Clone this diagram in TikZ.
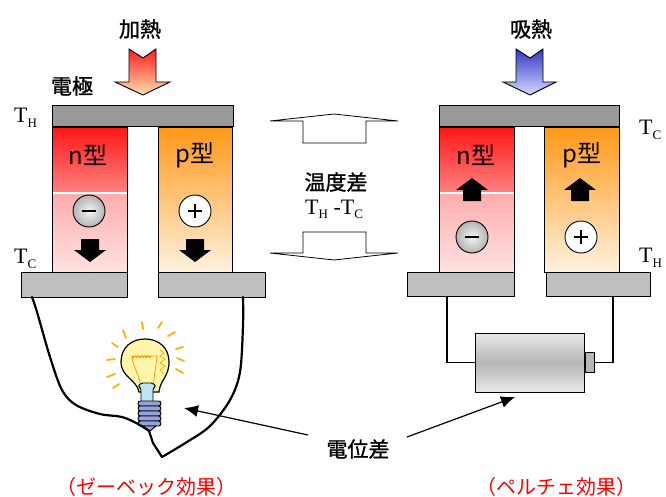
\documentclass[tikz,border=0pt]{standalone}
\usepackage{fontspec}
\setmainfont{Liberation Serif}
\newfontfamily\jp{Noto Sans CJK JP}
\newfontfamily\jpb[FakeBold=1.2]{Noto Sans CJK JP}
\usetikzlibrary{arrows.meta}
\definecolor{nTop}{RGB}{255,22,22}
\definecolor{nMid}{RGB}{255,130,130}
\definecolor{nMidB}{RGB}{255,172,172}
\definecolor{nBot}{RGB}{255,226,226}
\definecolor{pTop}{RGB}{255,152,22}
\definecolor{pBot}{RGB}{255,242,224}
\definecolor{hotTop}{RGB}{255,30,30}
\definecolor{hotBot}{RGB}{255,222,175}
\definecolor{coldTop}{RGB}{55,55,195}
\definecolor{coldBot}{RGB}{212,216,255}
\definecolor{elecDark}{RGB}{153,153,153}
\definecolor{elecLight}{RGB}{191,191,191}
\definecolor{capRed}{RGB}{255,0,0}
\definecolor{rayOrange}{RGB}{255,176,0}
\definecolor{filament}{RGB}{255,150,20}
\definecolor{glass}{RGB}{255,246,170}
\definecolor{stem}{RGB}{190,230,245}
\definecolor{screw}{RGB}{150,162,220}
\definecolor{battLight}{RGB}{232,232,232}
\definecolor{battMid}{RGB}{182,182,182}
\newcommand{\TT}[1]{T\raisebox{-5pt}{\fontsize{13}{13}\selectfont #1}}
\tikzset{
  leg/.style={draw=black,line width=0.8pt},
  topelec/.style={draw=black,line width=1pt,fill=elecDark},
  botelec/.style={draw=black,line width=1pt,fill=elecLight},
  jplabel/.style={font=\jpb\fontsize{21}{21}\selectfont,inner sep=0pt},
  typelabel/.style={font=\jp\fontsize{24}{24}\selectfont,inner sep=0pt},
  tlabel/.style={font=\fontsize{22}{22}\selectfont,inner sep=0pt,anchor=base west},
  caption/.style={font=\jp\fontsize{20}{20}\selectfont,text=capRed,inner sep=0pt},
  blockarrow/.style={fill=black},
  hollow/.style={draw=black,line width=0.8pt,fill=white},
  thickwire/.style={draw=black,line width=2.2pt,line join=round,line cap=round},
  thinwire/.style={draw=black,line width=1.3pt},
  pointer/.style={draw=black,line width=1.2pt,-{Latex[length=14pt,width=12pt]}},
  ray/.style={draw=rayOrange,line width=1.8pt,line cap=round},
}
\begin{document}
\begin{tikzpicture}[x=1pt,y=-1pt]
\useasboundingbox (0,0) rectangle (666,497);

% ---------------- left module (Seebeck) ----------------
% n leg
\shade[top color=nTop,bottom color=nMid] (52,127) rectangle (127,193);
\shade[top color=nMidB,bottom color=nBot] (52,193) rectangle (127,272);
\draw[white,line width=1pt] (52,193) -- (127,193);
\draw[leg] (52,127) rectangle (127,272);
% p leg
\shade[top color=pTop,bottom color=pBot,leg] (158,127) rectangle (232,272);
\draw[leg] (158,127) rectangle (232,272);
% electrodes
\draw[topelec] (52,106) rectangle (233,127);
\draw[botelec] (21,272) rectangle (127,297);
\draw[botelec] (158,272) rectangle (265,297);

\node[typelabel] (nL) at (88,155) {n型};
\node[typelabel] (pL) at (195,155) {p型};

% charge carriers
\shade[inner color=gray!8,outer color=gray!60] (89,211) circle (16);
\draw[line width=0.9pt] (89,211) circle (16);
\draw[line width=1.3pt] (82,211) -- (96,211);
\node[circle,draw=black,line width=0.9pt,fill=white,minimum size=32pt,inner sep=0pt] (plusL) at (195,211) {};
\draw[line width=1.3pt] (188,211) -- (202,211) (195,204) -- (195,218);

% carrier flow (downwards)
\fill[blockarrow] (81,239) -- (99,239) -- (99,250) -- (106,250) -- (90,262) -- (74,250) -- (81,250) -- cycle;
\fill[blockarrow] (186,239) -- (204,239) -- (204,250) -- (211,250) -- (195,262) -- (179,250) -- (186,250) -- cycle;

% heat input
\shade[top color=hotTop,bottom color=hotBot,draw=black,line width=0.9pt]
  (129,49) -- (143,58) -- (156,49) -- (156,82) -- (170,82) -- (143,95) -- (115,82) -- (129,82) -- cycle;
\node[jplabel] (heat) at (140,29) {加熱};
\node[jplabel] (elec) at (72,86) {電極};

\node[tlabel] (thL) at (14,123) {\TT{H}};
\node[tlabel] (tcL) at (14,263) {\TT{C}};

% ---------------- right module (Peltier) ----------------
\shade[top color=nTop,bottom color=nMid] (439,127) rectangle (514,193);
\shade[top color=nMidB,bottom color=nBot] (439,193) rectangle (514,272);
\draw[white,line width=1pt] (439,193) -- (514,193);
\draw[leg] (439,127) rectangle (514,272);
\shade[top color=pTop,bottom color=pBot] (544,127) rectangle (619,272);
\draw[leg] (544,127) rectangle (619,272);
\draw[topelec] (439,106) rectangle (619,127);
\draw[botelec] (407,272) rectangle (514,296);
\draw[botelec] (546,272) rectangle (650,296);

\node[typelabel] (nR) at (476,155) {n型};
\node[typelabel] (pR) at (582,155) {p型};

% carrier flow (upwards)
\fill[blockarrow] (456,190) -- (472,178) -- (488,190) -- (481,190) -- (481,201) -- (463,201) -- (463,190) -- cycle;
\fill[blockarrow] (564,190) -- (580,178) -- (596,190) -- (589,190) -- (589,201) -- (571,201) -- (571,190) -- cycle;

\shade[inner color=gray!8,outer color=gray!60] (472,237) circle (16);
\draw[line width=0.9pt] (472,237) circle (16);
\draw[line width=1.3pt] (465,237) -- (479,237);
\node[circle,draw=black,line width=0.9pt,fill=white,minimum size=32pt,inner sep=0pt] (plusR) at (581,237) {};
\draw[line width=1.3pt] (574,237) -- (588,237) (581,230) -- (581,244);

% heat absorbed
\shade[top color=coldTop,bottom color=coldBot,draw=black,line width=0.9pt]
  (516,49) -- (530,58) -- (543,49) -- (543,82) -- (556,82) -- (530,95) -- (503,82) -- (516,82) -- cycle;
\node[jplabel] (absorb) at (531,29) {吸熱};

\node[tlabel] (tcR) at (639,135) {\TT{C}};
\node[tlabel] (thR) at (639,262) {\TT{H}};

% ---------------- temperature difference ----------------
\draw[hollow] (270,121) -- (303,121) -- (303,143) -- (366,143) -- (366,121) -- (398,121) -- (334,114) -- cycle;
\draw[hollow] (303,232) -- (366,232) -- (366,253) -- (398,253) -- (334,260) -- (270,253) -- (303,253) -- cycle;
\node[jplabel] (dtemp) at (336,182) {温度差};
\node[tlabel] (dT) at (305,214) {\TT{H} -\TT{C}};

% ---------------- light bulb ----------------
\foreach \a/\b/\c/\d in {142/322/143/329, 162/322/158/328, 175/332/168/336, 183/347/176/349,
  184/361/177/358, 183/373/176/369, 123/330/126/338, 112/343/118/347, 107/360/115/359,
  107/377/115/374, 113/388/119/384}
  \draw[ray] (\a,\b) -- (\c,\d);
\draw[line width=1.2pt,fill=glass]
  (139,392) .. controls (137,380) and (121,377) .. (121,362)
  .. controls (121,347) and (132,339) .. (145,339)
  .. controls (158,339) and (169,347) .. (169,362)
  .. controls (169,377) and (160,380) .. (159,392) -- cycle;
% filament
\draw[filament,line width=0.8pt]
  (141,388) .. controls (140,375) and (133,368) .. (132,356)
  (153,388) .. controls (154,375) and (156,368) .. (157,356)
  (132,356) arc[start angle=180,end angle=0,radius=1.6]
  arc[start angle=180,end angle=0,radius=1.6]
  arc[start angle=180,end angle=0,radius=1.6]
  arc[start angle=180,end angle=0,radius=1.6]
  arc[start angle=180,end angle=0,radius=1.6]
  arc[start angle=180,end angle=0,radius=1.6]
  (131,356) -- (158,356);
\draw[rayOrange,line width=0.8pt] (160,350) -- (164,353) -- (160,356) -- (165,359) -- (160,363) -- (165,366) -- (160,370) -- (164,374);
% stem
\draw[line width=0.9pt,fill=stem,rounded corners=2pt] (141,402) -- (141,388) -- (138,386) -- (141,383) -- (153,383) -- (156,386) -- (153,388) -- (153,402);
% screw base
\foreach \k in {0,...,4}
  \draw[line width=0.9pt,fill=screw,rounded corners=2.5pt] (138,{401+5*\k}) rectangle (161,{406+5*\k});
\draw[line width=0.9pt,fill=screw] (143,426) -- (156,426) -- (150,431) -- cycle;
\coordinate (bulbtip) at (149,431);

% circuit wires
\coordinate (eL) at (32,297);
\coordinate (eR) at (243,297);
\coordinate (vtx) at (162,457);
\draw[thickwire] plot[smooth,tension=0.55] coordinates {(eL) (37,312) (50,357) (62,390) (76,405) (100,414) (122,417) (138,424) (bulbtip)};
\draw[thickwire] (bulbtip) -- (153,443) -- (vtx);
\draw[thickwire] plot[smooth,tension=0.55] coordinates {(eR) (243,325) (240,372) (230,400) (210,426) (187,442) (vtx)};

% ---------------- battery ----------------
\shade[top color=battLight,bottom color=battLight,middle color=battMid] (475,333) rectangle (584,392);
\node[draw=black,line width=1pt,minimum width=109pt,minimum height=59pt,inner sep=0pt] (batt) at (529.5,362.5) {};
\node[draw=black,line width=1pt,fill=battMid,minimum width=9pt,minimum height=20pt,inner sep=0pt,anchor=west] (term) at (batt.east) {};
\coordinate (bL) at (447,296);
\coordinate (bR) at (613,296);
\draw[thinwire] (bL) |- (batt.west);
\draw[thinwire] (bR) |- (term.east);

% ---------------- potential difference ----------------
\node[jplabel] (volt) at (358,449) {電位差};
\coordinate (bulbpt) at (184,408);
\coordinate (battpt) at (515,397);
\draw[pointer] (308,435) -- (bulbpt);
\draw[pointer] (407,437) -- (battpt);

\node[caption] (seebeck) at (146,487) {（ゼーベック効果）};
\node[caption] (peltier) at (556,487) {（ペルチェ効果）};
\end{tikzpicture}
\end{document}
